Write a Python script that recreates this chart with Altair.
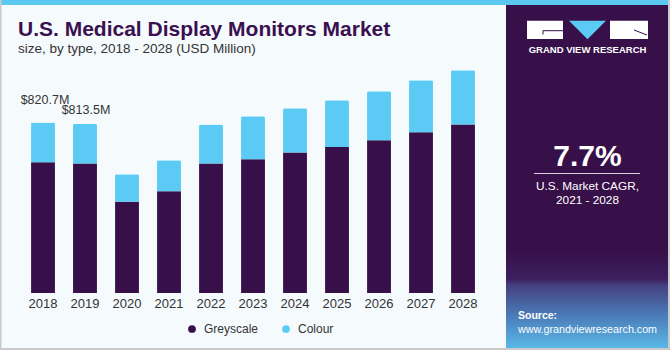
import altair as alt
import pandas as pd

# ---- data ----
years = ["2018", "2019", "2020", "2021", "2022", "2023", "2024", "2025", "2026", "2027", "2028"]
greyscale = [629.5, 623.0, 440.0, 490.0, 623.0, 644.0, 676.0, 703.0, 735.5, 774.0, 811.0]
colour = [191.2, 190.5, 131.7, 149.0, 188.0, 207.0, 214.0, 225.0, 236.0, 250.5, 261.6]
series = ["Greyscale", "Colour"]
label_years = ["2018", "2019"]
label_texts = ["$820.7M", "$813.5M"]

PURPLE = "#371049"
CYAN = "#5BCBF5"
TXT = "#333333"
FONT = "Liberation Sans"

rows = []
for i, y in enumerate(years):
    rows.append({"year": y, "type": "Greyscale", "value": greyscale[i], "ord": 0})
    rows.append({"year": y, "type": "Colour", "value": colour[i], "ord": 1})
df = pd.DataFrame(rows)

totals = {y: greyscale[i] + colour[i] for i, y in enumerate(years)}
lab_df = pd.DataFrame({"year": label_years, "text": label_texts,
                       "total": [totals[y] for y in label_years]})

# plot origin in page coords
OX, OY = 22, 60


def dummy():
    return alt.Chart(pd.DataFrame({"d": [0]}))


def rect(x, x2, y, y2, color):
    return dummy().mark_rect(color=color).encode(
        x=alt.value(x - OX), x2=alt.value(x2 - OX),
        y=alt.value(y - OY), y2=alt.value(y2 - OY))


def text(t, x, y, size, color, weight="normal", align="left"):
    return dummy().mark_text(text=t, fontSize=size, font=FONT, fontWeight=weight,
                             color=color, align=align, baseline="alphabetic").encode(
        x=alt.value(x - OX), y=alt.value(y - OY))


def rule(x, x2, y, y2, color, w=1):
    return dummy().mark_rule(color=color, strokeWidth=w).encode(
        x=alt.value(x - OX), x2=alt.value(x2 - OX),
        y=alt.value(y - OY), y2=alt.value(y2 - OY))


# background decorations
panel = rect(506, 668, 5, 348, PURPLE)
grad = dummy().mark_rect(color=alt.Gradient(
    gradient="linear",
    stops=[alt.GradientStop(offset=0, color=PURPLE),
           alt.GradientStop(offset=0.3, color="#3d2060"),
           alt.GradientStop(offset=0.36, color="#454080"),
           alt.GradientStop(offset=0.65, color="#4a78b5"),
           alt.GradientStop(offset=1, color="#5ab8e8")],
    x1=0, x2=0, y1=0, y2=1)).encode(
    x=alt.value(506 - OX), x2=alt.value(668 - OX),
    y=alt.value(250 - OY), y2=alt.value(348 - OY))
stripe = rect(0, 670, 0, 5, "#5BC8F0")
b_left = rect(0, 1.5, 0, 350, "#C9C9C9")
b_bottom = rect(0, 670, 348, 350, "#C9C9C9")
b_right = rect(668, 670, 0, 350, "#C9C9C9")

# logo
logo_l = rect(527, 563, 20.7, 39, "white")
logo_r = rect(610, 648, 20.7, 39, "white")
logo_g1 = rule(543, 563, 30.7, 30.7, PURPLE, 1)
logo_g2 = rule(543, 543, 30.7, 34.5, PURPLE, 1)
logo_r1 = rule(634, 647, 30, 35, PURPLE, 1)
tri = dummy().mark_point(shape="M-1,-0.5L1,-0.5L0,0.5Z", size=1369, filled=True,
                         color=CYAN, opacity=1, strokeWidth=0).encode(
    x=alt.value(587.5 - OX), y=alt.value(29.9 - OY))
logo_t = text("GRAND VIEW RESEARCH", 587.5, 53, 9.5, "white", "bold", "center")

# panel texts
cagr = text("7.7%", 587.5, 165.7, 30, "white", "bold", "center")
cagr_line = rule(534, 640, 173.5, 173.5, "#d8d0e0", 1)
cagr_l1 = text("U.S. Market CAGR,", 587.5, 189.5, 11.8, "white", "normal", "center")
cagr_l2 = text("2021 - 2028", 587.5, 204, 11.8, "white", "normal", "center")
src1 = text("Source:", 518, 319, 10.5, "white", "bold")
src2 = text("www.grandviewresearch.com", 518, 332.7, 10.7, "white")

# titles
title = text("U.S. Medical Display Monitors Market", 18, 36, 21, "#3B1050", "bold")
subtitle = text("size, by type, 2018 - 2028 (USD Million)", 18, 53, 13.5, TXT)

# bars
xenc = alt.X("year:N", sort=years,
             scale=alt.Scale(paddingInner=0.43, paddingOuter=0.215),
             axis=alt.Axis(title=None, labelAngle=0, domain=False, ticks=False,
                           grid=False, labelFontSize=13, labelColor=TXT,
                           labelFont=FONT, labelPadding=4))
yscale = alt.Scale(domain=[0, 1122], nice=False, zero=True)

bars = alt.Chart(df).mark_bar(cornerRadiusTopLeft=1.5, cornerRadiusTopRight=1.5).encode(
    x=xenc,
    y=alt.Y("value:Q", stack="zero", scale=yscale, axis=None),
    color=alt.Color("type:N", scale=alt.Scale(domain=series, range=[PURPLE, CYAN]),
                    legend=alt.Legend(title=None, orient="none", direction="horizontal",
                                      legendX=164, legendY=263, symbolType="circle",
                                      symbolSize=60, symbolStrokeWidth=0,
                                      labelFontSize=12, labelColor=TXT, labelFont=FONT,
                                      labelOffset=6, columnPadding=21)),
    order=alt.Order("ord:Q", sort="ascending"),
)

lab_base = alt.Chart(lab_df).mark_text(font=FONT, fontSize=12.5, color=TXT,
                                        align="center", baseline="alphabetic")
lab1 = lab_base.mark_text(font=FONT, fontSize=12.5, color=TXT, align="center",
                          baseline="alphabetic", dx=2, dy=-19).encode(
    x=alt.X("year:N", sort=years), y=alt.Y("total:Q", scale=yscale), text="text:N"
).transform_filter(alt.datum.year == "2018")
lab2 = lab_base.mark_text(font=FONT, fontSize=12.5, color=TXT, align="center",
                          baseline="alphabetic", dx=1, dy=-10).encode(
    x=alt.X("year:N", sort=years), y=alt.Y("total:Q", scale=yscale), text="text:N"
).transform_filter(alt.datum.year == "2019")

chart = alt.layer(
    panel, grad, stripe, b_left, b_bottom, b_right,
    logo_l, logo_r, logo_g1, logo_g2, logo_r1, tri, logo_t,
    cagr, cagr_line, cagr_l1, cagr_l2, src1, src2,
    title, subtitle,
    bars, lab1, lab2,
).properties(
    width=462, height=233,
    padding={"left": OX, "top": OY, "right": 670 - OX - 462, "bottom": 350 - OY - 233},
    autosize=alt.AutoSizeParams(type="none"),
    background="#F5FAFD",
).configure_view(stroke=None)

chart.save("out.html", embed_options={"renderer": "svg", "actions": False})
